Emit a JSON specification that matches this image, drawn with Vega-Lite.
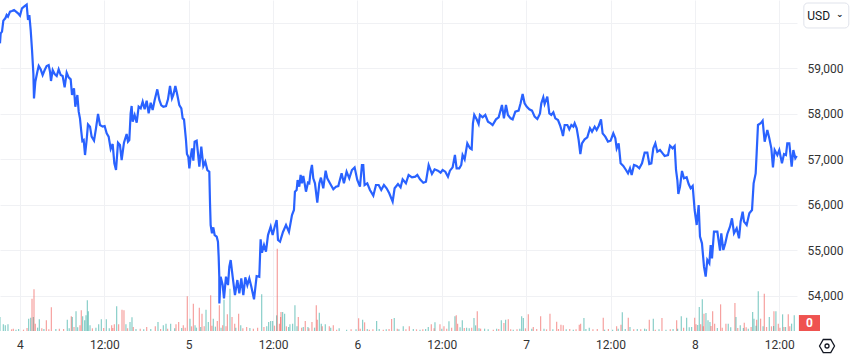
{"$schema":"https://vega.github.io/schema/vega-lite/v6.json","width":797,"height":331,"autosize":"none","padding":{"left":0,"top":0,"right":56,"bottom":27},"background":"#ffffff","config":{"view":{"stroke":null},"font":"Roboto"},"resolve":{"scale":{"y":"independent"}},
"datasets":{"price":[[-2.85,59542],[-2.75,59762],[-2.56,59799],[-2.37,60041],[-2.09,60092],[-1.9,60165],[-1.71,60129],[-1.42,60239],[-1.14,60253],[-0.85,60275],[-0.57,60239],[-0.28,60202],[0,60151],[0.28,60312],[0.57,60348],[0.95,60392],[1.14,60055],[1.33,60165],[1.52,59836],[1.71,59396],[1.9,58883],[1.99,58333],[2.18,58700],[2.47,58920],[2.66,59044],[2.94,58971],[3.22,58846],[3.51,58956],[3.79,59044],[4.08,59066],[4.27,58920],[4.41,58715],[4.65,58956],[4.93,58868],[5.22,58824],[5.5,58971],[5.79,58846],[6.07,58824],[6.35,58575],[6.64,58898],[6.92,58795],[7.21,58751],[7.4,58407],[7.68,58553],[7.87,58150],[8.16,58407],[8.35,58040],[8.53,57894],[8.72,57601],[8.87,57396],[9.06,57418],[9.25,57088],[9.48,57418],[9.67,57762],[9.96,57711],[10.19,57491],[10.53,57403],[10.81,57674],[11.1,57989],[11.38,57747],[11.76,57711],[12.04,57725],[12.33,57564],[12.61,57491],[12.9,57220],[13.18,57330],[13.42,56905],[13.66,56758],[13.94,57359],[14.22,57308],[14.46,56978],[14.79,57359],[15.17,57550],[15.36,57381],[15.55,57418],[15.74,58004],[15.88,58165],[16.03,57821],[16.31,57967],[16.6,57799],[16.88,58150],[17.17,58114],[17.45,58260],[17.73,58092],[18.02,58282],[18.3,58004],[18.59,58238],[18.87,58077],[19.16,58297],[19.53,58531],[19.82,58297],[20.1,58180],[20.39,58150],[20.77,58165],[21.05,58311],[21.34,58605],[21.62,58334],[21.81,58407],[22.1,58605],[22.38,58407],[22.66,58187],[22.95,58114],[23.14,57894],[23.33,57872],[23.61,57418],[23.75,57110],[23.94,57051],[24.09,56795],[24.28,57051],[24.47,57234],[24.66,56963],[24.84,57381],[25.13,57403],[25.32,57125],[25.51,56831],[25.79,57271],[26.08,56846],[26.36,56941],[26.65,56758],[26.93,56722],[27.03,56025],[27.12,55549],[27.31,55366],[27.5,55498],[27.69,55329],[27.98,55293],[28.16,55183],[28.26,54853],[28.35,54413],[28.36,53827],[28.54,54413],[28.83,54230],[29.02,53937],[29.3,54413],[29.59,54230],[29.78,54633],[29.97,54780],[30.25,54413],[30.58,54010],[30.92,54340],[31.2,54047],[31.48,54377],[31.77,54010],[32.05,54399],[32.34,54230],[32.62,54377],[32.91,54194],[33.29,53915],[33.66,54428],[34.04,54413],[34.23,55234],[34.42,54941],[34.71,55109],[34.99,54963],[35.28,55329],[35.66,55512],[35.94,55329],[36.23,55512],[36.51,55659],[36.7,55219],[36.99,55183],[37.41,55396],[37.84,55550],[38.26,55396],[38.69,55769],[38.97,55879],[39.11,56282],[39.35,56319],[39.49,56539],[39.73,56392],[39.92,56649],[40.11,56466],[40.3,56627],[40.49,56466],[40.68,56282],[40.96,56480],[41.15,56466],[41.34,56722],[41.53,56869],[41.72,56576],[41.96,56466],[42.29,56041],[42.58,56466],[42.81,56590],[43.14,56356],[43.48,56744],[43.71,56576],[44.09,56466],[44.57,56334],[44.95,56392],[45.28,56407],[45.75,56685],[46.08,56466],[46.46,56722],[46.84,56576],[47.22,56759],[47.6,56817],[47.98,56539],[48.36,56392],[48.64,56869],[48.83,56869],[49.02,56429],[49.4,56466],[49.78,56319],[50.26,56195],[50.64,56429],[51.02,56429],[51.39,56319],[51.77,56429],[52.15,56356],[52.53,56246],[53.01,56063],[53.29,56356],[53.77,56451],[54.14,56378],[54.43,56554],[54.9,56466],[55.28,56649],[55.76,56598],[56.23,56612],[56.52,56649],[56.9,56554],[57.37,56480],[57.75,56502],[58.13,56869],[58.6,56671],[58.98,56773],[59.45,56744],[59.83,56700],[60.12,56759],[60.5,56722],[60.88,56612],[61.16,56744],[61.54,56817],[61.87,57088],[62.11,56795],[62.49,56795],[62.77,56869],[62.96,57088],[63.25,56993],[63.63,57345],[64.01,57235],[64.25,57213],[64.43,57784],[64.62,57968],[64.96,57872],[65.24,57770],[65.43,57968],[65.81,57916],[66.19,57968],[66.57,57821],[66.95,57784],[67.23,57748],[67.71,57872],[68.09,57916],[68.56,58187],[68.84,57894],[69.13,58187],[69.41,57968],[69.79,57894],[70.08,57872],[70.46,58041],[70.93,58063],[71.21,58224],[71.5,58429],[71.78,58224],[72.07,58151],[72.45,58092],[72.83,58063],[73.21,57931],[73.59,57880],[73.87,57968],[73.97,58004],[74.16,58224],[74.44,58356],[74.63,58209],[75.01,58371],[75.3,58004],[75.58,57968],[75.87,58026],[76.15,57894],[76.53,57858],[76.81,57748],[77.1,57601],[77.24,57506],[77.48,57748],[77.86,57748],[78.14,57653],[78.43,57748],[78.71,57711],[78.9,57785],[79.19,57675],[79.47,57418],[79.71,57110],[79.94,57345],[80.32,57433],[80.7,57477],[81.08,57675],[81.37,57601],[81.75,57711],[82.03,57638],[82.32,57726],[82.65,57872],[82.88,57565],[83.26,57491],[83.64,57382],[84.02,57403],[84.4,57565],[84.69,57455],[84.88,57235],[85.16,57345],[85.44,56905],[85.82,56847],[86.2,56759],[86.49,56685],[86.77,56795],[87.01,56649],[87.34,56869],[87.72,56847],[88.1,56795],[88.48,56905],[88.86,57140],[89.24,57140],[89.52,56891],[89.81,56905],[90.09,57235],[90.38,57345],[90.66,57162],[91.04,57198],[91.42,57125],[91.7,57066],[92.18,57088],[92.46,57294],[92.84,57235],[93.13,57286],[93.32,56759],[93.51,56539],[93.65,56231],[93.89,56392],[94.17,56737],[94.45,56576],[94.83,56598],[95.12,56451],[95.4,56356],[95.69,56407],[95.97,55879],[96.26,55550],[96.54,55989],[96.73,55293],[97.01,55147],[97.3,54634],[97.54,54414],[97.77,54781],[98.06,54707],[98.25,55110],[98.44,54817],[98.72,55403],[99.2,55403],[99.58,54986],[99.76,55367],[100.05,55000],[100.33,55147],[100.62,55352],[101,55513],[101.28,55696],[101.57,55367],[101.95,55477],[102.28,55257],[102.51,55623],[102.8,55843],[102.99,55623],[103.37,55550],[103.75,55806],[104.13,55879],[104.36,56466],[104.65,56685],[104.79,57125],[104.98,57748],[105.36,57785],[105.64,57843],[105.93,57382],[106.31,57638],[106.59,57455],[106.88,57235],[107.11,56817],[107.35,57198],[107.73,57088],[108.01,57198],[108.39,56905],[108.68,57110],[108.96,57088],[109.15,57345],[109.44,57345],[109.77,56832],[110.01,57198],[110.29,57015],[110.5,57066]],
"volume":[[-2.85,42,"u"],[-2.37,20,"u"],[-2.09,17,"u"],[-1.71,20,"u"],[-0.95,7,"d"],[-0.57,4,"u"],[1.23,37,"u"],[1.52,40,"u"],[1.71,97,"d"],[1.9,42,"u"],[1.99,125,"d"],[2.18,22,"d"],[2.75,35,"u"],[3.75,32,"d"],[4.46,71,"d"],[6.73,34,"u"],[7.3,44,"d"],[7.44,42,"u"],[7.68,12,"d"],[7.97,59,"u"],[8.53,17,"d"],[8.72,62,"d"],[8.91,44,"u"],[9.2,32,"u"],[9.39,47,"u"],[9.58,92,"u"],[9.72,59,"u"],[9.96,17,"u"],[11.19,20,"u"],[11.57,35,"u"],[12.28,35,"u"],[13.04,17,"d"],[13.42,20,"d"],[13.75,74,"u"],[14.03,20,"d"],[14.51,64,"d"],[14.79,62,"d"],[15.07,20,"u"],[15.65,27,"u"],[15.93,41,"u"],[16.12,12,"d"],[18.02,12,"d"],[19.25,14,"d"],[19.63,27,"u"],[20.39,17,"u"],[20.77,22,"u"],[21.43,22,"u"],[22.19,20,"d"],[22.57,27,"d"],[23.23,17,"d"],[23.8,104,"d"],[24.18,37,"u"],[24.66,82,"d"],[24.9,17,"u"],[25.51,70,"d"],[25.89,52,"d"],[26.46,64,"u"],[26.79,27,"u"],[27.12,107,"d"],[27.5,37,"u"],[28.07,30,"d"],[28.36,77,"d"],[28.83,17,"d"],[29.02,94,"u"],[29.5,50,"d"],[29.87,127,"u"],[30.16,42,"d"],[30.54,22,"d"],[31.1,52,"d"],[31.4,17,"u"],[32.24,12,"d"],[34.38,110,"u"],[35.37,27,"u"],[35.66,30,"u"],[35.94,30,"u"],[36.5,47,"u"],[36.6,247,"d"],[36.9,22,"d"],[37.07,42,"d"],[37.13,57,"d"],[37.36,57,"u"],[37.64,52,"u"],[38.21,12,"u"],[38.78,22,"u"],[39.11,77,"u"],[39.59,42,"d"],[40.06,10,"d"],[40.58,30,"d"],[40.96,12,"u"],[41.53,27,"d"],[42.15,77,"d"],[42.29,34,"d"],[42.58,55,"u"],[42.86,22,"u"],[43.43,20,"u"],[44,14,"d"],[44.57,17,"d"],[45.04,4,"d"],[46.46,4,"u"],[48.17,38,"d"],[48.74,34,"u"],[49.02,26,"d"],[49.69,4,"d"],[50.73,30,"u"],[51.68,4,"d"],[52.86,36,"d"],[53.24,39,"u"],[53.67,7,"d"],[54.52,14,"u"],[55.38,14,"d"],[55.95,6,"u"],[56.9,4,"u"],[57.7,6,"u"],[58.08,12,"u"],[58.51,20,"d"],[59.03,26,"u"],[59.74,20,"d"],[60.31,14,"d"],[61.02,29,"u"],[61.87,44,"u"],[62.06,47,"d"],[62.25,22,"d"],[62.92,32,"u"],[63.53,10,"u"],[64.25,10,"d"],[64.58,39,"u"],[64.81,17,"u"],[65.05,59,"d"],[65.52,7,"d"],[66.09,7,"u"],[67.33,4,"d"],[67.8,7,"u"],[68.47,32,"u"],[68.84,24,"d"],[69.08,34,"u"],[69.46,35,"d"],[70.17,4,"u"],[71.36,44,"u"],[71.6,39,"u"],[72.31,50,"d"],[73.02,12,"d"],[74.06,44,"d"],[74.54,7,"u"],[75.39,52,"d"],[76.34,28,"d"],[76.95,19,"d"],[77.28,17,"d"],[78.71,4,"u"],[79.56,19,"d"],[79.75,22,"d"],[80.22,39,"u"],[80.98,10,"u"],[82.12,6,"d"],[82.97,40,"d"],[83.16,4,"u"],[84.3,4,"u"],[84.87,14,"d"],[85.49,19,"d"],[85.68,56,"u"],[86.53,40,"d"],[86.77,12,"u"],[87.81,6,"u"],[88.85,7,"u"],[89.52,34,"d"],[90.09,37,"u"],[90.37,4,"d"],[91.32,39,"d"],[91.89,4,"u"],[93.41,32,"d"],[93.55,7,"u"],[94.07,44,"u"],[94.83,40,"u"],[95.54,12,"u"],[95.97,40,"d"],[96.16,20,"d"],[96.63,72,"u"],[96.82,20,"d"],[97.06,95,"u"],[97.3,52,"d"],[97.58,54,"u"],[97.87,32,"u"],[98.15,27,"u"],[98.53,59,"d"],[98.81,22,"d"],[99.66,80,"d"],[100.42,22,"d"],[100.75,22,"u"],[101.7,84,"d"],[101.85,42,"u"],[102.46,17,"u"],[103.03,25,"d"],[103.6,7,"u"],[104.22,57,"u"],[104.41,37,"u"],[104.79,34,"d"],[105.02,119,"u"],[105.35,37,"d"],[105.88,112,"d"],[106.59,42,"u"],[107.25,59,"d"],[107.53,59,"u"],[107.87,22,"d"],[108.48,50,"u"],[108.67,12,"d"],[109.29,50,"d"],[109.76,22,"u"],[110.14,47,"u"],
[-1.2,5,"d"],[-0.2,6,"u"],[0.5,4,"d"],[1.0,9,"d"],[2.5,10,"u"],[3.1,8,"d"],[3.4,6,"u"],[4.1,5,"d"],[5.1,6,"u"],[5.6,7,"d"],[6.2,6,"d"],[7.0,8,"u"],[8.2,11,"u"],[10.3,8,"d"],[10.8,10,"u"],[11.9,9,"d"],[12.7,8,"u"],[13.2,9,"d"],[15.3,8,"d"],[16.5,6,"u"],[17.1,7,"d"],[17.6,5,"u"],[18.6,6,"u"],[20,6,"d"],[21,7,"d"],[22,8,"u"],[23,9,"u"],[23.5,10,"d"],[24.4,14,"d"],[25.1,10,"u"],[25.7,12,"u"],[26.2,14,"d"],[27.3,16,"d"],[27.8,13,"u"],[28.6,10,"u"],[29.3,14,"d"],[30.7,10,"u"],[31.7,8,"d"],[32.7,9,"u"],[33.2,7,"d"],[33.8,10,"d"],[34.7,12,"d"],[35.1,14,"u"],[36.2,16,"d"],[37.9,14,"d"],[38.4,20,"u"],[39.4,14,"u"],[40.3,12,"u"],[41.1,8,"d"],[41.9,10,"u"],[43,14,"d"],[44.2,10,"u"],[45.4,8,"u"],[47.1,5,"d"],[47.8,5,"u"],[48.4,7,"d"],[49.4,6,"u"],[50.2,5,"d"],[51.1,6,"u"],[52.1,5,"u"],[52.5,6,"d"],[53.9,5,"u"],[54.9,5,"d"],[56.4,5,"d"],[57.3,5,"d"],[58.9,8,"d"],[60,7,"u"],[60.7,7,"d"],[61.4,10,"d"],[62.6,11,"u"],[63.2,9,"d"],[63.9,8,"u"],[65.3,8,"u"],[66.6,5,"u"],[68.1,6,"d"],[69.8,5,"d"],[70.7,5,"d"],[71.1,7,"u"],[71.9,8,"d"],[72.8,7,"u"],[73.5,6,"d"],[74.9,5,"d"],[75.8,5,"u"],[76.6,6,"d"],[77.7,5,"u"],[78.2,6,"d"],[79.1,5,"d"],[80.5,6,"u"],[81.5,5,"d"],[83.7,6,"d"],[85.1,7,"u"],[86.1,6,"u"],[87.3,5,"d"],[88.3,5,"d"],[89.1,5,"u"],[90.9,5,"u"],[92.5,5,"d"],[92.9,6,"u"],[94.4,10,"d"],[95.2,11,"u"],[96.4,18,"u"],[97.2,14,"d"],[98.3,15,"d"],[99.2,9,"u"],[99.9,10,"d"],[101.1,11,"u"],[102.1,9,"d"],[102.9,9,"u"],[103.3,11,"d"],[104,12,"d"],[104.7,16,"u"],[105.7,14,"u"],[106.2,12,"d"],[106.9,14,"d"],[107.2,15,"u"],[108.1,10,"d"],[108.9,12,"u"],[109.5,14,"d"]]},
"layer":[
{"data":{"name":"volume"},"transform":[{"calculate":"datum[0]","as":"h"},{"calculate":"datum[1]","as":"vol"},{"calculate":"datum[2]","as":"dir"}],"mark":{"type":"bar","orient":"vertical","size":1.2,"opacity":0.55},"encoding":{"x":{"field":"h","type":"quantitative","scale":{"domain":[-2.845,110.53],"nice":false,"zero":false,"padding":0},"axis":{"values":[0,12,24,36,48,60,72,84,96,108],"labelExpr":"datum.value % 24 == 0 ? format(4 + datum.value / 24, 'd') : '12:00'","title":null,"grid":true,"gridColor":"#f0f1f4","domain":false,"ticks":false,"labelFont":"Roboto","labelFontSize":12,"labelColor":"#333333","labelPadding":8,"labelOverlap":false,"labelBound":false,"labelFlush":false}},"y":{"field":"vol","type":"quantitative","scale":{"domain":[0,993],"nice":false},"axis":null},"color":{"field":"dir","type":"nominal","scale":{"domain":["u","d"],"range":["#26a69a","#ef5350"]},"legend":null}}},
{"data":{"name":"price"},"transform":[{"calculate":"datum[0]","as":"h"},{"calculate":"datum[1]","as":"price"}],"mark":{"type":"line","color":"#2962ff","strokeWidth":2.2,"clip":false},"encoding":{"x":{"field":"h","type":"quantitative"},"y":{"field":"price","type":"quantitative","scale":{"domain":[53220,60495],"nice":false,"zero":false},"axis":{"orient":"right","values":[54000,55000,56000,57000,58000,59000,60000],"labelExpr":"datum.value >= 60000 ? '' : format(datum.value, ',')","title":null,"grid":true,"gridColor":"#f0f1f4","domain":false,"ticks":false,"labelFont":"Roboto","labelFontSize":12,"labelColor":"#333333","labelPadding":10,"labelOverlap":false,"labelBound":false}}}},
{"data":{"values":[{"label":"USD"}]},"mark":{"type":"rect","fill":"#ffffff","stroke":"#e0e3eb","cornerRadius":4,"strokeWidth":1},"encoding":{"x":{"datum":111.5},"x2":{"datum":117.9},"y":{"datum":60429,"scale":{"domain":[53220,60495],"nice":false,"zero":false},"axis":null},"y2":{"datum":59880}}},
{"data":{"values":[{"label":"USD","h":112,"p":60150}]},"mark":{"type":"text","align":"left","baseline":"middle","fontSize":12,"font":"Roboto","color":"#131722"},"encoding":{"x":{"field":"h","type":"quantitative"},"y":{"field":"p","type":"quantitative","scale":{"domain":[53220,60495],"nice":false,"zero":false},"axis":null},"text":{"field":"label"}}},
{"data":{"values":[{"label":"⌄","h":116.6,"p":60180}]},"mark":{"type":"text","align":"center","baseline":"middle","fontSize":9,"font":"DejaVu Sans","fontWeight":"bold","color":"#131722"},"encoding":{"x":{"field":"h","type":"quantitative"},"y":{"field":"p","type":"quantitative","scale":{"domain":[53220,60495],"nice":false,"zero":false},"axis":null},"text":{"field":"label"}}},
{"data":{"values":[{"value":0}]},"mark":{"type":"rect","fill":"#ef5350"},"encoding":{"x":{"datum":110.8},"x2":{"datum":113.8},"y":{"datum":53571,"scale":{"domain":[53220,60495],"nice":false,"zero":false},"axis":null},"y2":{"datum":53220}}},
{"data":{"values":[{"label":"0","h":112.3,"p":53395}]},"mark":{"type":"text","align":"center","baseline":"middle","fontSize":12,"font":"Roboto","fontWeight":"bold","color":"#ffffff"},"encoding":{"x":{"field":"h","type":"quantitative"},"y":{"field":"p","type":"quantitative","scale":{"domain":[53220,60495],"nice":false,"zero":false},"axis":null},"text":{"field":"label"}}},
{"data":{"values":[{"h":114.8,"p":52890}]},"mark":{"type":"point","shape":"M-1,0L-0.5,-0.87L0.5,-0.87L1,0L0.5,0.87L-0.5,0.87Z","size":225,"filled":false,"stroke":"#131722","strokeWidth":1.3,"opacity":1},"encoding":{"x":{"field":"h","type":"quantitative"},"y":{"field":"p","type":"quantitative","scale":{"domain":[53220,60495],"nice":false,"zero":false},"axis":null}}},
{"data":{"values":[{"h":114.8,"p":52890}]},"mark":{"type":"point","shape":"circle","size":16,"filled":false,"stroke":"#131722","strokeWidth":1.3,"opacity":1},"encoding":{"x":{"field":"h","type":"quantitative"},"y":{"field":"p","type":"quantitative","scale":{"domain":[53220,60495],"nice":false,"zero":false},"axis":null}}}
]}
